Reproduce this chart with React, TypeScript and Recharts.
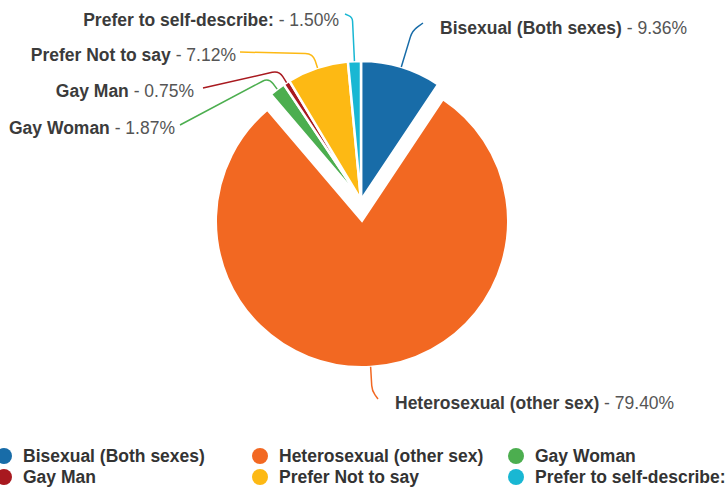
import React from "react";
import { PieChart, Pie, Cell, Legend } from "recharts";

const categories = [
  "Bisexual (Both sexes)",
  "Heterosexual (other sex)",
  "Gay Woman",
  "Gay Man",
  "Prefer Not to say",
  "Prefer to self-describe:",
];
const shares = [9.36, 79.4, 1.87, 0.75, 7.12, 1.5];
const colors = ["#186ca8", "#f26822", "#4cae4f", "#a8191f", "#fdb914", "#19b7d3"];

const data = categories.map((name, i) => ({ name, value: shares[i] }));

// index of the pulled-out slice
const explodedIndex = 1;

// label placement (relative to the pie centre the slice belongs to)
type LabelLayout = { ext: number; end: [number, number]; text: [number, number]; anchor: "start" | "end" };
const labelLayout: LabelLayout[] = [
  { ext: 38, end: [62, -177], text: [79, -172], anchor: "start" },
  { ext: 24, end: [16, 178], text: [33, 182], anchor: "start" },
  { ext: 14, end: [-181, -75], text: [-186, -72], anchor: "end" },
  { ext: 14, end: [-158, -112], text: [-167, -109], anchor: "end" },
  { ext: 15, end: [-121, -148], text: [-125, -145], anchor: "end" },
  { ext: 44, end: [-16, -186], text: [-22, -180], anchor: "end" },
];

const FONT = '"Liberation Sans", Arial, Helvetica, sans-serif';
const FS = 17.5;

function makeLabel(show: (i: number) => boolean) {
  return (props: any) => {
    const { cx, cy, midAngle, outerRadius, index } = props;
    if (!show(index)) return null;
    const L = labelLayout[index];
    const rad = (-midAngle * Math.PI) / 180;
    const ux = Math.cos(rad);
    const uy = Math.sin(rad);
    const sx = cx + outerRadius * ux;
    const sy = cy + outerRadius * uy;
    const bx = cx + (outerRadius + L.ext) * ux;
    const by = cy + (outerRadius + L.ext) * uy;
    const ex = cx + L.end[0];
    const ey = cy + L.end[1];
    const d1 = Math.hypot(bx - sx, by - sy);
    const d2 = Math.hypot(ex - bx, ey - by);
    const rr = Math.min(9, d1 / 2, d2 / 2);
    const p1x = bx - ux * rr;
    const p1y = by - uy * rr;
    const p2x = bx + ((ex - bx) / d2) * rr;
    const p2y = by + ((ey - by) / d2) * rr;
    const path = `M${sx},${sy} L${p1x},${p1y} Q${bx},${by} ${p2x},${p2y} L${ex},${ey}`;
    const tx = cx + L.text[0];
    const ty = cy + L.text[1] + 6.3;
    return (
      <g key={`lbl-${index}`}>
        <path d={path} stroke={colors[index]} strokeWidth={1.5} fill="none" />
        <text x={tx} y={ty} textAnchor={L.anchor} fontFamily={FONT} fontSize={FS}>
          <tspan fontWeight="bold" fill="#3b3b3b">{categories[index]}</tspan>
          <tspan fill="#555555">{` - ${shares[index].toFixed(2)}%`}</tspan>
        </text>
      </g>
    );
  };
}

const legendColX = [4, 260, 516];
const legendRowY = [456, 477];

function renderLegend() {
  return (
    <div style={{ position: "relative", width: 728, height: 49 }}>
      {categories.map((name, i) => {
        const col = i % 3;
        const row = Math.floor(i / 3);
        const x = legendColX[col];
        const y = legendRowY[row] - 440;
        return (
          <div key={name} style={{ position: "absolute", left: 0, top: 0 }}>
            <div
              style={{
                position: "absolute",
                left: x - 8,
                top: y - 8,
                width: 16,
                height: 16,
                borderRadius: 8,
                background: colors[i],
              }}
            />
            <div
              style={{
                position: "absolute",
                left: x + 19,
                top: y - 11,
                height: 22,
                lineHeight: "22px",
                whiteSpace: "nowrap",
                fontFamily: FONT,
                fontSize: FS,
                fontWeight: "bold",
                color: "#333333",
              }}
            >
              {name}
            </div>
          </div>
        );
      })}
    </div>
  );
}

export default function App() {
  return (
    <div style={{ position: "absolute", left: 0, top: 0, width: 728, height: 489, background: "#ffffff" }}>
      <PieChart width={728} height={489} margin={{ top: 0, right: 0, bottom: 0, left: 0 }}>
        <Pie
          data={data}
          dataKey="value"
          nameKey="name"
          cx={362}
          cy={221}
          outerRadius={146}
          startAngle={90}
          endAngle={-270}
          isAnimationActive={false}
          labelLine={false}
          label={makeLabel((i) => i === explodedIndex)}
        >
          {data.map((d, i) => (
            <Cell
              key={d.name}
              fill={i === explodedIndex ? colors[i] : "none"}
              stroke={i === explodedIndex ? "#ffffff" : "none"}
              strokeWidth={i === explodedIndex ? 2 : 0}
            />
          ))}
        </Pie>
        <Pie
          data={data}
          dataKey="value"
          nameKey="name"
          cx={361}
          cy={200}
          outerRadius={139}
          startAngle={90}
          endAngle={-270}
          isAnimationActive={false}
          labelLine={false}
          label={makeLabel((i) => i !== explodedIndex)}
        >
          {data.map((d, i) => (
            <Cell
              key={d.name}
              fill={i !== explodedIndex ? colors[i] : "none"}
              stroke={i !== explodedIndex ? "#ffffff" : "none"}
              strokeWidth={i !== explodedIndex ? 2.5 : 0}
            />
          ))}
        </Pie>
        <Legend
          content={renderLegend}
          wrapperStyle={{ position: "absolute", left: 0, top: 440, width: 728, height: 49 }}
        />
      </PieChart>
    </div>
  );
}
